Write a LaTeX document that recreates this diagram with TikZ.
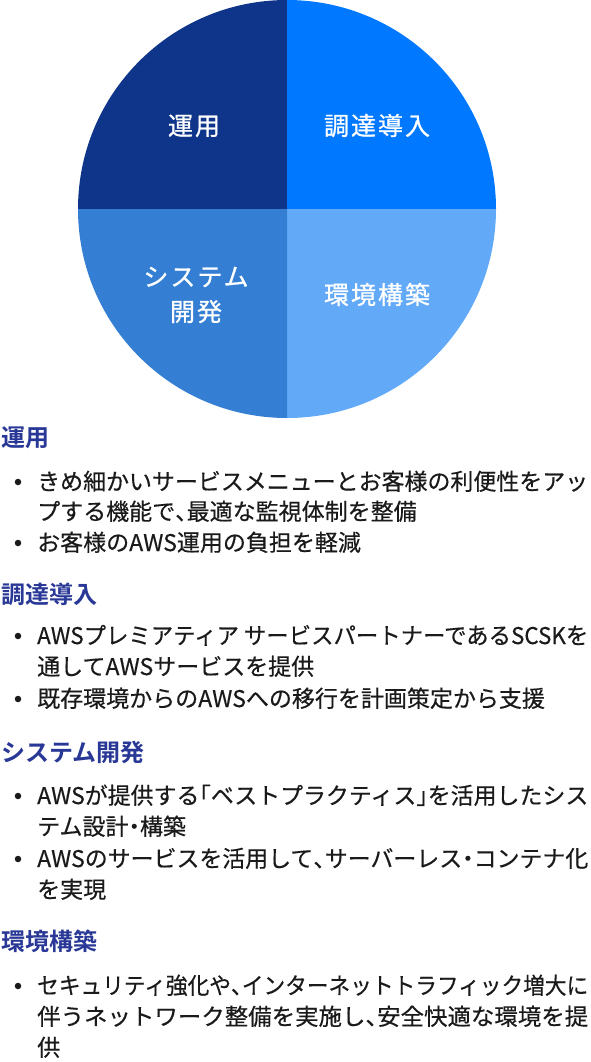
\documentclass[tikz,border=0pt]{standalone}
\usepackage{fontspec}
\usepackage{graphicx}
\setmainfont{Noto Sans CJK JP}[BoldFont={Noto Sans CJK JP Bold}]
\newfontfamily\circfont{Noto Sans CJK JP}[LetterSpace=8,FakeBold=0.8]
\newfontfamily\bodyfont{Noto Sans CJK JP}[FakeBold=0.4]
\definecolor{qnavy}{RGB}{14,53,137}
\definecolor{qbright}{RGB}{0,120,255}
\definecolor{qmid}{RGB}{52,127,211}
\definecolor{qlight}{RGB}{98,170,247}
\definecolor{headc}{RGB}{41,56,150}
\definecolor{bodyc}{RGB}{26,26,26}
\newcommand{\hpL}[1]{\makebox[0.5em][l]{#1}}
\newcommand{\hpR}[1]{\makebox[0.5em][r]{#1}}
\newcommand{\hpC}[1]{\makebox[0.5em][c]{#1}}
\newcommand{\jline}[1]{\resizebox{551pt}{\height}{#1}}
\tikzset{
  circlabel/.style={text=white, font=\circfont\fontsize{25}{29}\selectfont, inner sep=0pt, anchor=base},
  heading/.style={text=headc, font=\bfseries\fontsize{24}{28}\selectfont, inner sep=0pt, anchor=base west},
  bodyline/.style={text=bodyc, font=\bodyfont\fontsize{23}{30}\selectfont, inner sep=0pt, anchor=base west},
  bulletdot/.style={circle, fill=bodyc, inner sep=0pt, minimum size=6.5pt}
}
\begin{document}
\begin{tikzpicture}[x=1pt,y=1pt]
\useasboundingbox (0,0) rectangle (590,-1062);
\fill[white] (0,0) rectangle (590,-1062);
% pie quadrants
\coordinate (c) at (287,-209);
\fill[qnavy] (c) -- (78,-209) arc[start angle=180,end angle=90,radius=209] -- cycle;
\fill[qbright] (c) -- (287,0) arc[start angle=90,end angle=0,radius=209] -- cycle;
\fill[qlight] (c) -- (496,-209) arc[start angle=0,end angle=-90,radius=209] -- cycle;
\fill[qmid] (c) -- (287,-418) arc[start angle=270,end angle=180,radius=209] -- cycle;
% labels in the pie
\node[circlabel] (p1) at (194,-135) {運用};
\node[circlabel] (p2) at (377,-135) {調達導入};
\node[circlabel] (p3) at (196,-286) {システム};
\node[circlabel] (p3b) at (196,-321) {開発};
\node[circlabel] (p4) at (377,-304) {環境構築};
% section 1
\node[heading] (h1) at (1,-446) {運用};
\node[bulletdot] (b11) at (18,-482) {};
\node[bodyline] (t11) at (37,-490) {\jline{きめ細かいサービスメニューとお客様の利便性をアッ}};
\node[bodyline] (t12) at (37,-520) {プする機能で\hpL{、}最適な監視体制を整備};
\node[bulletdot] (b12) at (18,-543) {};
\node[bodyline] (t13) at (37,-551) {お客様のAWS運用の負担を軽減};
% section 2
\node[heading] (h2) at (1,-603) {調達導入};
\node[bulletdot] (b21) at (18,-636) {};
\node[bodyline] (t21) at (37,-644) {\jline{AWSプレミアティア サービスパートナーであるSCSKを}};
\node[bodyline] (t22) at (37,-675) {通してAWSサービスを提供};
\node[bulletdot] (b22) at (18,-699) {};
\node[bodyline] (t23) at (37,-707) {既存環境からのAWSへの移行を計画策定から支援};
% section 3
\node[heading] (h3) at (1,-761) {システム開発};
\node[bulletdot] (b31) at (18,-796) {};
\node[bodyline] (t31) at (37,-804) {\jline{AWSが提供する\hpR{「}ベストプラクティス\hpL{」}を活用したシス}};
\node[bodyline] (t32) at (37,-835) {テム設計\hpC{・}構築};
\node[bulletdot] (b32) at (18,-859) {};
\node[bodyline] (t33) at (37,-867) {\jline{AWSのサービスを活用して\hpL{、}サーバーレス\hpC{・}コンテナ化}};
\node[bodyline] (t34) at (37,-898) {を実現};
% section 4
\node[heading] (h4) at (1,-950) {環境構築};
\node[bulletdot] (b41) at (18,-986) {};
\node[bodyline] (t41) at (37,-994) {\jline{セキュリティ強化や\hpL{、}インターネットトラフィック増大に}};
\node[bodyline] (t42) at (37,-1025) {\jline{伴うネットワーク整備を実施し\hpL{、}安全快適な環境を提}};
\node[bodyline] (t43) at (37,-1056) {供};
\end{tikzpicture}
\end{document}
